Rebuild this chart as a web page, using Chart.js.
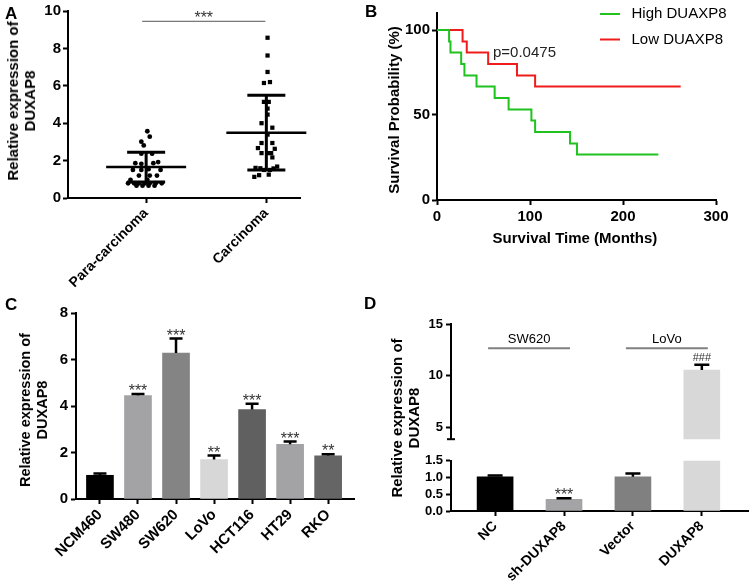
<!DOCTYPE html>
<html>
<head>
<meta charset="utf-8">
<script src="https://cdn.jsdelivr.net/npm/chart.js@4.4.1/dist/chart.umd.min.js"></script>
<style>
  body { margin: 0; background: #fff; }
  #fig { position: relative; width: 753px; height: 587px; overflow: hidden; font-family: Arial, "Liberation Sans", sans-serif; color: #000; }
  #fig canvas { position: absolute; }
  .tag { position: absolute; font-weight: bold; font-size: 17px; line-height: 17px; }
  .ytitle { position: absolute; font-weight: bold; white-space: nowrap; text-align: center; line-height: 17px; transform: translate(-50%, -50%) rotate(-90deg); }
  .xtitle { position: absolute; font-weight: bold; white-space: nowrap; transform: translate(-50%, -50%); }
</style>
</head>
<body>
<div id="fig">
  <canvas id="cA" width="320" height="290" style="left:0;top:0"></canvas>
  <canvas id="cB" width="383" height="290" style="left:370px;top:0"></canvas>
  <canvas id="cC" width="370" height="297" style="left:0;top:290px"></canvas>
  <canvas id="cDtop" width="373" height="150" style="left:380px;top:300px"></canvas>
  <canvas id="cDbot" width="373" height="137" style="left:380px;top:450px"></canvas>

  <div class="tag" style="left:5px;top:5px">A</div>
  <div class="tag" style="left:365px;top:3px">B</div>
  <div class="tag" style="left:5px;top:296px">C</div>
  <div class="tag" style="left:364px;top:295px">D</div>

  <div class="ytitle" style="left:21px;top:101px;font-size:15px">Relative expression of<br>DUXAP8</div>
  <div class="ytitle" style="left:393px;top:110px;font-size:15px">Survival Probability (%)</div>
  <div class="xtitle" style="left:575px;top:237px;font-size:15px">Survival Time (Months)</div>
  <div class="ytitle" style="left:34px;top:410px;font-size:14.5px">Relative expression of<br>DUXAP8</div>
  <div class="ytitle" style="left:405px;top:418px;font-size:15px">Relative expression of<br>DUXAP8</div>
</div>

<script>
// ---- A: scatter of tissue samples ----
const groupsA = ['Para-carcinoma', 'Carcinoma'];
const paraX = [1.01, 1.03, 0.96, 0.98, 0.96, 1.05, 0.91, 0.96, 1.06, 1.10, 0.89, 0.96, 1.02, 1.12, 0.94,
               1.03, 1.09, 0.87, 1.01, 0.85, 0.90, 0.94, 0.99, 1.03, 1.08, 1.13, 0.92, 0.97, 1.02, 1.07];
const paraY = [3.57, 3.28, 3.01, 2.81, 2.37, 2.37, 1.86, 1.83, 1.86, 1.92, 1.50, 1.50, 1.54, 1.50, 1.20,
               1.20, 1.20, 0.97, 0.97, 0.79, 0.79, 0.79, 0.79, 0.79, 0.79, 0.79, 0.66, 0.66, 0.66, 0.66];
const carcX = [2.01, 2.01, 2.01, 1.98, 2.03, 1.98, 2.02, 2.01, 2.01, 1.96, 2.05, 2.01, 1.96, 2.05, 1.93,
               2.07, 1.96, 2.01, 2.04, 2.05, 1.91, 1.95, 2.06, 2.09, 1.98, 2.03, 1.94, 2.02, 1.90];
const carcY = [8.57, 7.62, 6.74, 6.15, 6.20, 5.14, 5.14, 4.78, 4.46, 4.00, 3.76, 3.39, 2.94, 2.94, 2.67,
               2.63, 2.40, 2.40, 2.40, 2.17, 1.61, 1.59, 1.58, 1.68, 1.50, 1.50, 1.22, 1.25, 1.13];
const meanA = [1.66, 3.49];
const sdHighA = [2.44, 5.50];
const sdLowA = [0.86, 1.50];
const sigLevelA = 9.45;

// ---- B: survival curves ----
const highT = [0, 13, 14.5, 26, 29.5, 42.5, 62, 77, 101.5, 105.5, 143, 150.5, 238];
const highS = [100, 93.3, 86.7, 80, 73.3, 66.7, 60, 53.3, 46.7, 40, 33.3, 26.7, 26.7];
const lowT = [0, 27.5, 32, 55, 86, 105.5, 262];
const lowS = [100, 93.3, 86.7, 80, 73.3, 66.7, 66.7];
const pValueB = 'p=0.0475';

// ---- C: cell lines ----
const cellsC = ['NCM460', 'SW480', 'SW620', 'LoVo', 'HCT116', 'HT29', 'RKO'];
const valuesC = [1.02, 4.45, 6.28, 1.70, 3.85, 2.35, 1.86];
const errC = [1.10, 4.52, 6.90, 1.87, 4.10, 2.47, 1.93];
const sigC = ['', '***', '***', '**', '***', '***', '**'];
const colorsC = ['#000000', '#a3a3a6', '#848484', '#d7d7d7', '#606060', '#a3a3a6', '#656565'];

// ---- D: knockdown / overexpression ----
const groupsD = ['NC', 'sh-DUXAP8', 'Vector', 'DUXAP8'];
const valuesD = [1.02, 0.35, 1.02, 10.55];
const errD = [1.06, 0.38, 1.12, 11.05];
const sigD = ['', '***', '', '###'];
const cellLinesD = ['SW620', 'LoVo'];
const bracketLevelD = 12.65;
const upperTicksD = [5, 10, 15];
const lowerTicksD = [0, 0.5, 1, 1.5];
const colorsD = ['#000000', '#a4a4a6', '#808080', '#d8d8d8'];

Chart.defaults.font.family = 'Arial, "Liberation Sans", sans-serif';
Chart.defaults.color = '#000';
Chart.defaults.animation = false;
Chart.defaults.responsive = false;
Chart.defaults.plugins.legend.display = false;
Chart.defaults.plugins.tooltip.enabled = false;

function axis(extra) {
    return Object.assign({
        border: { display: true, color: '#000', width: 2 },
        grid: { display: true, drawOnChartArea: false, drawTicks: true, tickLength: 5, tickWidth: 2, color: '#000', offset: false },
        offset: false
    }, extra);
}

function fixedTicks(values) {
    return s => { s.ticks = values.map(v => ({ value: v })); };
}

function errorBars(values, errs, marks, capHalf) {
    return {
        id: 'errorBars',
        afterDatasetsDraw(chart) {
            const { ctx, chartArea: a, scales: { x, y } } = chart;
            ctx.save();
            ctx.beginPath();
            ctx.rect(a.left, a.top, a.right - a.left, a.bottom - a.top);
            ctx.clip();
            ctx.strokeStyle = '#000';
            ctx.lineWidth = 2.5;
            ctx.textAlign = 'center';
            ctx.textBaseline = 'alphabetic';
            values.forEach((v, i) => {
                const cx = x.getPixelForValue(i);
                const y0 = y.getPixelForValue(v);
                const y1 = y.getPixelForValue(errs[i]);
                ctx.beginPath();
                ctx.moveTo(cx, y0);
                ctx.lineTo(cx, y1);
                ctx.moveTo(cx - capHalf, y1);
                ctx.lineTo(cx + capHalf, y1);
                ctx.stroke();
                const m = marks[i];
                if (m) {
                    ctx.fillStyle = '#333';
                    if (m[0] === '#') {
                        ctx.font = '11px Arial, "Liberation Sans"';
                        ctx.fillText(m, cx, y1 - 4);
                    } else {
                        ctx.font = '16px Arial, "Liberation Sans"';
                        ctx.fillText(m, cx, y1 + 2);
                    }
                }
            });
            ctx.restore();
        }
    };
}

// ---------- A ----------
new Chart(document.getElementById('cA'), {
    type: 'scatter',
    data: {
        datasets: [
            { data: paraX.map((x, i) => ({ x, y: paraY[i] })), pointStyle: 'circle', pointRadius: 2.4, backgroundColor: '#000', borderWidth: 0 },
            { data: carcX.map((x, i) => ({ x, y: carcY[i] })), pointStyle: 'rect', pointRadius: 3, backgroundColor: '#000', borderWidth: 0 }
        ]
    },
    options: {
        layout: { padding: { top: 11, right: 20, left: 0, bottom: 0 } },
        scales: {
            x: axis({
                type: 'linear', min: 0.35, max: 2.28,
                afterBuildTicks: fixedTicks([1, 2]),
                afterFit: s => { s.height = 92; },
                ticks: { autoSkip: false, minRotation: 45, maxRotation: 45, padding: 2,
                         font: { size: 14, weight: 'bold' }, callback: v => groupsA[v - 1] }
            }),
            y: axis({
                min: 0, max: 10,
                afterFit: s => { s.width = 68; },
                ticks: { stepSize: 2, autoSkip: false, padding: 2, font: { size: 15, weight: 'bold' } }
            })
        }
    },
    plugins: [{
        id: 'meanSd',
        afterDatasetsDraw(chart) {
            const { ctx, scales: { x, y } } = chart;
            ctx.save();
            ctx.strokeStyle = '#000';
            meanA.forEach((m, i) => {
                const cx = x.getPixelForValue(i + 1);
                ctx.lineWidth = 2.5;
                ctx.beginPath();
                ctx.moveTo(cx - 40, y.getPixelForValue(m));
                ctx.lineTo(cx + 40, y.getPixelForValue(m));
                ctx.stroke();
                ctx.lineWidth = 3;
                const hi = y.getPixelForValue(sdHighA[i]), lo = y.getPixelForValue(sdLowA[i]);
                ctx.beginPath();
                ctx.moveTo(cx, hi); ctx.lineTo(cx, lo);
                ctx.moveTo(cx - 19, hi); ctx.lineTo(cx + 19, hi);
                ctx.moveTo(cx - 19, lo); ctx.lineTo(cx + 19, lo);
                ctx.stroke();
            });
            const sy = y.getPixelForValue(sigLevelA);
            const x0 = x.getPixelForValue(1) - 4, x1 = x.getPixelForValue(2) - 1;
            ctx.strokeStyle = '#555';
            ctx.lineWidth = 1;
            ctx.beginPath();
            ctx.moveTo(x0, sy); ctx.lineTo(x1, sy);
            ctx.stroke();
            ctx.fillStyle = '#333';
            ctx.font = '16px Arial, "Liberation Sans"';
            ctx.textAlign = 'center';
            ctx.textBaseline = 'alphabetic';
            ctx.fillText('***', (x0 + x1) / 2, sy + 1.5);
            ctx.restore();
        }
    }]
});

// ---------- B ----------
new Chart(document.getElementById('cB'), {
    type: 'line',
    data: {
        datasets: [
            { label: 'High DUAXP8', data: highT.map((t, i) => ({ x: t, y: highS[i] })), borderColor: '#1fc21f',
              borderWidth: 2, stepped: 'before', pointRadius: 0, fill: false },
            { label: 'Low DUAXP8', data: lowT.map((t, i) => ({ x: t, y: lowS[i] })), borderColor: '#f01c1c',
              borderWidth: 2, stepped: 'before', pointRadius: 0, fill: false }
        ]
    },
    options: {
        layout: { padding: { top: 13, right: 37, left: 0, bottom: 0 } },
        scales: {
            x: axis({
                type: 'linear', min: 0, max: 300,
                afterFit: s => { s.height = 90; },
                ticks: { stepSize: 100, autoSkip: false, padding: 3, maxRotation: 0, font: { size: 15, weight: 'bold' } }
            }),
            y: axis({
                min: 0, max: 110,
                afterBuildTicks: fixedTicks([0, 50, 100]),
                afterFit: s => { s.width = 67; },
                ticks: { autoSkip: false, padding: 2, font: { size: 15, weight: 'bold' } }
            })
        }
    },
    plugins: [{
        id: 'kmLegend',
        afterDraw(chart) {
            const ctx = chart.ctx;
            ctx.save();
            ctx.font = '15px Arial, "Liberation Sans"';
            ctx.textBaseline = 'middle';
            ctx.textAlign = 'left';
            chart.data.datasets.forEach((ds, i) => {
                const yy = 14 + i * 25.5;
                ctx.strokeStyle = ds.borderColor;
                ctx.lineWidth = 2;
                ctx.beginPath();
                ctx.moveTo(230, yy); ctx.lineTo(250, yy);
                ctx.stroke();
                ctx.fillStyle = '#000';
                ctx.fillText(ds.label, 261.5, yy);
            });
            ctx.fillStyle = '#222';
            ctx.fillText(pValueB, 123, 53);
            ctx.restore();
        }
    }]
});

// ---------- C ----------
new Chart(document.getElementById('cC'), {
    type: 'bar',
    data: {
        datasets: [{ data: cellsC.map((c, i) => ({ x: i, y: valuesC[i] })), backgroundColor: colorsC, barThickness: 27 }]
    },
    options: {
        layout: { padding: { top: 23, right: 16, left: 0, bottom: 0 } },
        scales: {
            x: axis({
                type: 'linear', min: -0.63, max: 6.68,
                afterBuildTicks: fixedTicks(cellsC.map((c, i) => i)),
                afterFit: s => { s.height = 88; },
                ticks: { autoSkip: false, minRotation: 45, maxRotation: 45, padding: 2,
                         font: { size: 15, weight: 'bold' }, callback: v => cellsC[v] }
            }),
            y: axis({
                min: 0, max: 8,
                afterFit: s => { s.width = 76; },
                ticks: { stepSize: 2, autoSkip: false, padding: 3, font: { size: 15, weight: 'bold' } }
            })
        }
    },
    plugins: [errorBars(valuesC, errC, sigC, 6.5)]
});

// ---------- D (broken axis: upper and lower segments) ----------
const dataD = groupsD.map((g, i) => ({ x: i, y: valuesD[i] }));

new Chart(document.getElementById('cDtop'), {
    type: 'bar',
    data: { datasets: [{ data: dataD, backgroundColor: colorsD, barThickness: 36 }] },
    options: {
        layout: { padding: { top: 24, right: 5, left: 0, bottom: 4 } },
        scales: {
            x: { type: 'linear', min: -0.64, max: 3.67, display: false, offset: false },
            y: axis({
                min: 3.85, max: 15,
                afterBuildTicks: fixedTicks(upperTicksD),
                afterFit: s => { s.width = 71; },
                ticks: { autoSkip: false, padding: 3, font: { size: 13, weight: 'bold' } }
            })
        }
    },
    plugins: [errorBars(valuesD, errD, sigD, 7.5), {
        id: 'groupsD',
        afterDatasetsDraw(chart) {
            const { ctx, chartArea: a, scales: { x, y } } = chart;
            ctx.save();
            const yy = y.getPixelForValue(bracketLevelD);
            cellLinesD.forEach((name, g) => {
                const x0 = x.getPixelForValue(2 * g) - 7, x1 = x.getPixelForValue(2 * g + 1) + 6;
                ctx.strokeStyle = '#808080';
                ctx.lineWidth = 2;
                ctx.beginPath();
                ctx.moveTo(x0, yy); ctx.lineTo(x1, yy);
                ctx.stroke();
                ctx.fillStyle = '#000';
                ctx.font = '13px Arial, "Liberation Sans"';
                ctx.textAlign = 'center';
                ctx.textBaseline = 'alphabetic';
                ctx.fillText(name, (x0 + x1) / 2, yy - 5.5);
            });
            // axis break mark
            ctx.strokeStyle = '#000';
            ctx.lineWidth = 2;
            ctx.beginPath();
            ctx.moveTo(a.left - 4, a.bottom); ctx.lineTo(a.left + 4, a.bottom);
            ctx.stroke();
            ctx.restore();
        }
    }]
});

new Chart(document.getElementById('cDbot'), {
    type: 'bar',
    data: { datasets: [{ data: dataD, backgroundColor: colorsD, barThickness: 36 }] },
    options: {
        layout: { padding: { top: 9, right: 5, left: 0, bottom: 0 } },
        scales: {
            x: axis({
                type: 'linear', min: -0.64, max: 3.67,
                afterBuildTicks: fixedTicks(groupsD.map((g, i) => i)),
                afterFit: s => { s.height = 76; },
                ticks: { autoSkip: false, minRotation: 45, maxRotation: 45, padding: 2,
                         font: { size: 14, weight: 'bold' }, callback: v => groupsD[v] }
            }),
            y: axis({
                min: 0, max: 1.5,
                afterBuildTicks: fixedTicks(lowerTicksD),
                afterFit: s => { s.width = 71; },
                ticks: { autoSkip: false, padding: 3, font: { size: 13, weight: 'bold' }, callback: v => v.toFixed(1) }
            })
        }
    },
    plugins: [errorBars(valuesD, errD, sigD, 7.5)]
});
</script>
</body>
</html>
